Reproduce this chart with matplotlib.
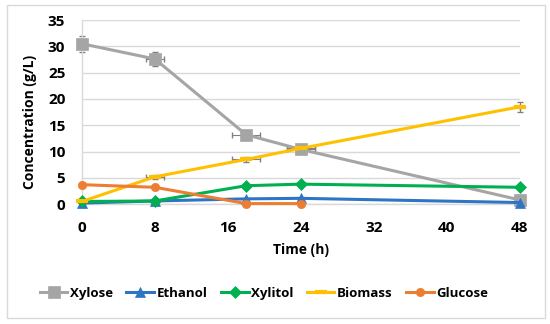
import matplotlib.pyplot as plt
from matplotlib.patches import Rectangle

# time points (h)
time_main = [0, 8, 18, 24, 48]
time_glucose = [0, 8, 18, 24]

xylose = [30.5, 27.6, 13.2, 10.4, 0.8]
ethanol = [0.2, 0.6, 1.0, 1.1, 0.3]
xylitol = [0.5, 0.6, 3.5, 3.8, 3.2]
biomass = [0.5, 5.2, 8.5, 10.6, 18.5]
glucose = [3.7, 3.2, 0.1, 0.1]

xylose_err = [1.5, 1.3, 0.6, 0.4, 0.3]
biomass_err = [0.2, 0.4, 0.5, 0.4, 1.0]
time_err = [0.0, 1.0, 1.5, 1.5, 0.0]

series = [
    ("Xylose", time_main, xylose, "#A5A5A5", "s", 8.5),
    ("Ethanol", time_main, ethanol, "#2E75C6", "^", 7),
    ("Xylitol", time_main, xylitol, "#00B050", "D", 6),
    ("Biomass", time_main, biomass, "#FFC000", "_", 9),
    ("Glucose", time_glucose, glucose, "#ED7D31", "o", 6),
]

plt.rcParams["font.family"] = ["Open Sans", "DejaVu Sans"]

fig = plt.figure(figsize=(5.5, 3.24), dpi=100)
fig.patches.append(Rectangle((0.012, 0.02), 0.978, 0.965, transform=fig.transFigure,
                             fill=False, edgecolor="#D9D9D9", linewidth=1))
ax = fig.add_axes([0.149, 0.370, 0.796, 0.568])

# error bars (grey, like the Excel default)
ax.errorbar(time_main, xylose, yerr=xylose_err, xerr=time_err, fmt="none",
            ecolor="#808080", elinewidth=0.8, capsize=2, zorder=2, clip_on=False)
ax.errorbar(time_main, biomass, yerr=biomass_err, xerr=time_err, fmt="none",
            ecolor="#808080", elinewidth=0.8, capsize=2, zorder=2, clip_on=False)

for name, t, vals, color, marker, ms in series:
    mew = 3 if marker == "_" else 0.5
    ax.plot(t, vals, color=color, linewidth=2.2, marker=marker, markersize=ms,
            markeredgewidth=mew, markeredgecolor=color, label=name, zorder=3, clip_on=False)

ax.set_xlim(0, 48)
ax.set_ylim(0, 35)
ax.set_xticks([0, 8, 16, 24, 32, 40, 48])
ax.set_yticks(range(0, 36, 5))
ax.tick_params(length=0, labelsize=11)
ax.tick_params(axis="x", pad=12)
ax.tick_params(axis="y", pad=12)
for lab in ax.get_xticklabels() + ax.get_yticklabels():
    lab.set_fontweight("bold")
ax.grid(axis="y", color="#D9D9D9", linewidth=1)
ax.set_axisbelow(True)
for side in ["top", "right"]:
    ax.spines[side].set_visible(False)
for side in ["left", "bottom"]:
    ax.spines[side].set_color("#D9D9D9")
    ax.spines[side].set_linewidth(1)

ax.set_xlabel("Time (h)", fontsize=10, fontweight="bold", labelpad=6)
ax.set_ylabel("Concentration (g/L)", fontsize=10, fontweight="bold")
ax.yaxis.set_label_coords(-0.103, 0.446)

fig.legend(loc="center", bbox_to_anchor=(0.48, 0.095), ncol=5, frameon=False,
           prop={"weight": "bold", "size": 9.5}, handlelength=2.1,
           handletextpad=0.2, columnspacing=1.0)

fig.savefig("out.png", dpi=100)
